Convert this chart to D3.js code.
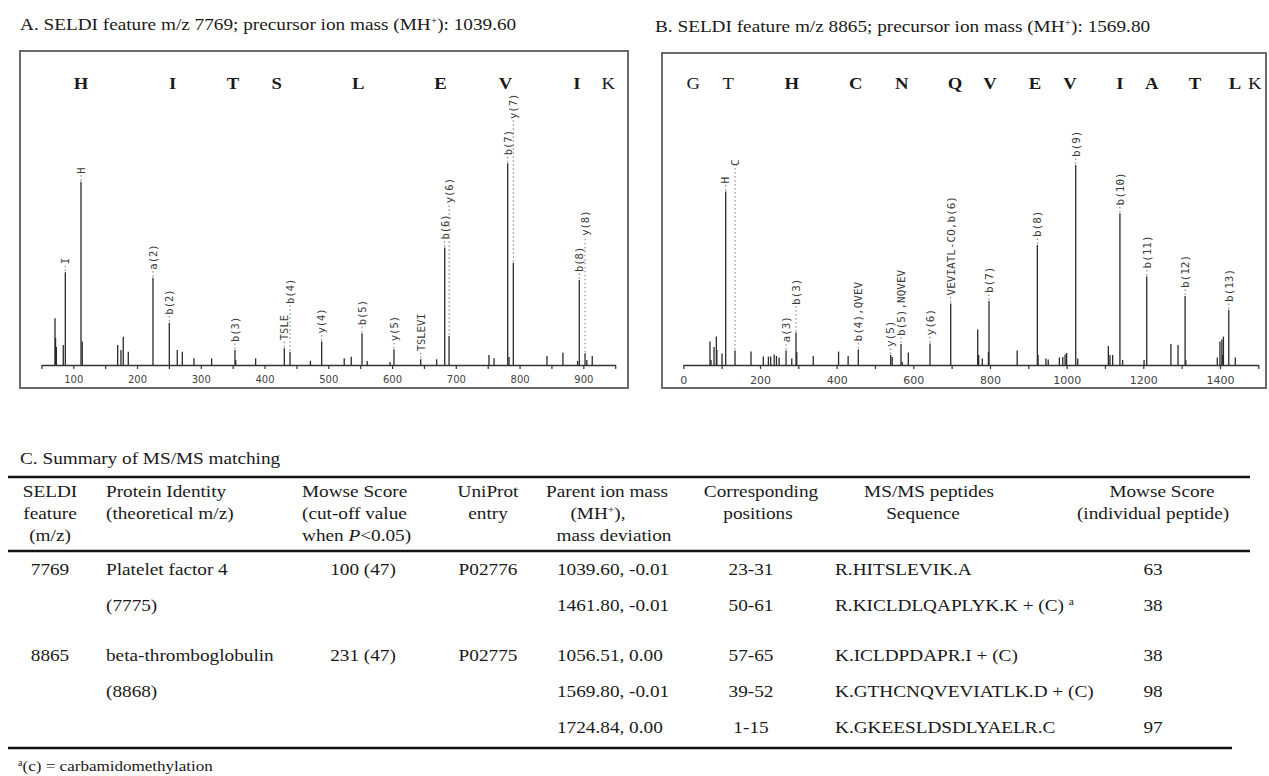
<!DOCTYPE html>
<html><head><meta charset="utf-8">
<script src="https://cdn.jsdelivr.net/npm/d3@7"></script>
<style>
body{margin:0;background:#fff} svg{display:block}
text.serif{font-family:"Liberation Serif","Times New Roman","DejaVu Serif",serif}
</style>
</head><body>
<svg id="fig" width="1269" height="776"></svg>
<script>
// ---------------- DATA ----------------
// Panel A: SELDI feature m/z 7769, peptide HITSLEVIK
const spectrumA_mz  = [71.3, 72.2, 73.5, 84.3, 87.5, 112.1, 114.1, 169.6, 174.8, 178.4, 186.3, 225.0, 250.6, 263.1, 271.0, 289.3, 317.0, 353.6, 354.8, 386.0, 431.0, 440.0, 472.0, 489.6, 525.0, 536.0, 552.9, 561.0, 596.8, 603.0, 645.0, 670.0, 682.6, 689.4, 752.0, 760.0, 781.4, 783.5, 790.2, 843.0, 868.0, 891.0, 893.7, 902.7, 905.5, 914.0];
const spectrumA_int = [23.2, 13.4, 8.9, 9.9, 46.0, 90.9, 11.6, 9.9, 7.4, 14.0, 6.6, 43.3, 21.0, 7.4, 6.6, 3.3, 3.3, 7.4, 2.5, 3.3, 8.3, 6.6, 2.1, 11.6, 3.3, 4.1, 15.7, 2.0, 1.5, 7.8, 2.8, 2.8, 58.2, 14.4, 5.0, 3.3, 100, 4.0, 50.7, 4.5, 6.1, 2.0, 42.1, 5.8, 2.5, 4.5];
const labelsA_mz   = [87.5, 112.1, 225.0, 250.6, 353.6, 431.0, 440.0, 489.6, 552.9, 603.0, 645.0, 682.6, 689.4, 781.4, 790.2, 893.7, 902.7];
const labelsA_text = ["I","H","a(2)","b(2)","b(3)","TSLE","b(4)","y(4)","b(5)","y(5)","TSLEVI","b(6)","y(6)","b(7)","y(7)","b(8)","y(8)"];
const residuesA      = ["H","I","T","S","L","E","V","I","K"];
const residuesA_mz   = [112, 256, 350.5, 419, 547, 676, 778, 890, 939];
const residuesA_bold = [true, true, true, true, true, true, true, true, false];
const domainA = [50, 950];
const ticksA  = d3.range(50, 951, 50);
const tickLabelsA = [100, 200, 300, 400, 500, 600, 700, 800, 900];

// Panel B: SELDI feature m/z 8865, peptide GTHCNQVEVIATLK
const spectrumB_mz  = [69.6, 72.3, 80.1, 86.2, 87.5, 101.0, 110.6, 134.9, 176.6, 208.7, 222.0, 228.0, 237.0, 243.0, 250.0, 268.0, 283.0, 294.0, 296.0, 339.0, 405.0, 430.0, 456.5, 541.0, 545.0, 568.0, 571.0, 587.0, 643.6, 697.6, 768.0, 770.5, 780.0, 796.0, 797.5, 871.0, 923.6, 925.5, 946.0, 952.0, 981.0, 990.0, 996.0, 1000.0, 1023.7, 1029.0, 1108.8, 1113.0, 1120.0, 1139.0, 1146.0, 1202.0, 1209.0, 1272.0, 1290.6, 1309.0, 1311.0, 1393.0, 1400.0, 1405.0, 1407.0, 1409.0, 1423.0, 1440.0];
const spectrumB_int = [11.7, 2.5, 9.0, 14.2, 7.5, 5.8, 86.7, 7.2, 6.7, 4.2, 4.2, 4.2, 5.3, 4.5, 3.8, 7.2, 3.3, 16.2, 6.5, 4.5, 6.7, 4.5, 7.8, 5.0, 4.0, 10.5, 1.5, 6.2, 10.8, 30.8, 17.8, 5.0, 3.3, 6.5, 32.0, 7.2, 60.0, 5.0, 3.3, 2.8, 3.8, 4.0, 5.3, 6.0, 100, 3.3, 9.5, 5.0, 5.0, 75.8, 2.5, 2.5, 44.2, 10.5, 10.0, 34.5, 2.5, 3.8, 11.7, 12.8, 5.0, 14.2, 27.5, 3.8];
const labelsB_mz   = [110.6, 134.9, 268.0, 294.0, 456.5, 541.0, 568.0, 643.6, 697.6, 797.5, 923.6, 1023.7, 1139.0, 1209.0, 1309.0, 1423.0];
const labelsB_text = ["H","C","a(3)","b(3)","b(4),QVEV","y(5)","b(5),NQVEV","y(6)","VEVIATL-CO,b(6)","b(7)","b(8)","b(9)","b(10)","b(11)","b(12)","b(13)"];
const residuesB      = ["G","T","H","C","N","Q","V","E","V","I","A","T","L","K"];
const residuesB_mz   = [26, 117, 283, 450, 570, 709, 800, 917.6, 1009, 1139, 1222, 1335, 1439, 1491];
const residuesB_bold = [false, false, true, true, true, true, true, true, true, true, true, true, true, false];
const domainB = [0, 1500];
const ticksB  = d3.range(0, 1501, 100);
const tickLabelsB = [0, 200, 400, 600, 800, 1000, 1200, 1400];

// Titles
const titleA = "A. SELDI feature m/z 7769; precursor ion mass (MH^+^): 1039.60";
const titleB = "B. SELDI feature m/z 8865; precursor ion mass (MH^+^): 1569.80";
const titleC = "C. Summary of MS/MS matching";

// Panel C table
const headerSeldi    = ["SELDI", "feature", "(m/z)"];
const headerProtein  = ["Protein Identity", "(theoretical m/z)"];
const headerMowse    = ["Mowse Score", "(cut-off value", "when |P|<0.05)"];
const headerUniprot  = ["UniProt", "entry"];
const headerParent   = ["Parent ion mass", "(MH^+^),", "mass deviation"];
const headerPos      = ["Corresponding", "positions"];
const headerSeq      = ["MS/MS peptides", "Sequence"];
const headerScore    = ["Mowse Score", "(individual peptide)"];

const colSeldi    = ["7769", "", "8865", "", ""];
const colProtein  = ["Platelet factor 4", "(7775)", "beta-thromboglobulin", "(8868)", ""];
const colMowse    = ["100 (47)", "", "231 (47)", "", ""];
const colUniprot  = ["P02776", "", "P02775", "", ""];
const colParent   = ["1039.60, -0.01", "1461.80, -0.01", "1056.51, 0.00", "1569.80, -0.01", "1724.84, 0.00"];
const colPos      = ["23-31", "50-61", "57-65", "39-52", "1-15"];
const colSeq      = ["R.HITSLEVIK.A", "R.KICLDLQAPLYK.K + (C) ^a^", "K.ICLDPDAPR.I + (C)", "K.GTHCNQVEVIATLK.D + (C)", "K.GKEESLDSDLYAELR.C"];
const colScore    = ["63", "38", "38", "98", "97"];
const rowGroup    = [0, 0, 1, 1, 1];
const footnote    = "^a^(c) = carbamidomethylation";

// ---------------- DRAWING ----------------
const svg = d3.select("#fig");
svg.append("rect").attr("width", 1269).attr("height", 776).attr("fill", "#ffffff");
const SX = 1.1;  // horizontal stretch of the serif text in the source figure

// rich text: ^x^ = superscript, |x| = italic
function rich(parent, x, y, str, anchor, size, weight) {
  const t = parent.append("text").attr("class", "serif")
    .attr("transform", `translate(${x},${y}) scale(${SX},1)`)
    .attr("text-anchor", anchor || "start")
    .attr("font-size", size)
    .attr("font-weight", weight || "normal").attr("fill", "#1a1a1a");
  const parts = str.split(/(\^[^^]*\^|\|[^|]*\|)/).filter(s => s.length);
  parts.forEach(p => {
    if (p[0] === "^") {
      t.append("tspan").attr("font-size", size * 0.6).attr("baseline-shift", "super").text(p.slice(1, -1));
    } else if (p[0] === "|") {
      t.append("tspan").attr("font-style", "italic").text(p.slice(1, -1));
    } else {
      t.append("tspan").text(p);
    }
  });
  return t;
}

// titles
rich(svg, 20, 30, titleA, "start", 17.5);
rich(svg, 655, 32, titleB, "start", 17.5);

function spectrum(cfg) {
  const g = svg.append("g");
  g.append("rect").attr("x", cfg.box[0]).attr("y", cfg.box[1])
    .attr("width", cfg.box[2]).attr("height", cfg.box[3])
    .attr("fill", "#fff").attr("stroke", "#6a6a6a").attr("stroke-width", 2);

  const x = d3.scaleLinear().domain(cfg.domain).range(cfg.xRange);
  const y = d3.scaleLinear().domain([0, 100]).range(cfg.yRange);

  // axis
  const axis = d3.axisBottom(x).tickValues(cfg.ticks).tickSize(4).tickPadding(7)
    .tickSizeOuter(0)
    .tickFormat(d => cfg.tickLabels.includes(d) ? d : "");
  const ax = g.append("g").attr("transform", `translate(0,${cfg.yRange[0]})`).call(axis);
  ax.select(".domain").attr("stroke", "#333").attr("stroke-width", 1.3);
  ax.selectAll(".tick line").attr("stroke", "#333").attr("stroke-width", 1.2);
  ax.selectAll(".tick text").filter(d => !cfg.tickLabels.includes(d)).remove();
  ax.selectAll(".tick text").attr("font-family", "'DejaVu Sans',sans-serif")
    .attr("font-size", cfg.tickFont).attr("fill", "#444");

  // residue letters
  g.selectAll("text.res").data(cfg.residues).join("text")
    .attr("class", "res serif")
    .attr("transform", (d, i) => `translate(${x(cfg.residuesMz[i])},${cfg.resY}) scale(${SX},1)`)
    .attr("text-anchor", "middle").attr("font-size", 17)
    .attr("font-weight", (d, i) => cfg.residuesBold[i] ? "bold" : "normal")
    .attr("fill", "#1a1a1a").text(d => d);

  // peaks
  const peaks = d3.zip(cfg.mz, cfg.int);
  g.selectAll("line.peak").data(peaks).join("line").attr("class", "peak")
    .attr("x1", d => x(d[0])).attr("x2", d => x(d[0]))
    .attr("y1", y(0)).attr("y2", d => y(d[1]))
    .attr("stroke", "#2a2a2a").attr("stroke-width", 1.3);

  // peak annotations (rotated); a label next to an already annotated peak goes above that label
  const placed = [];
  cfg.labMz.forEach((m, i) => {
    const j = d3.minIndex(cfg.mz, v => Math.abs(v - m));
    const px = x(cfg.mz[j]);
    const top = y(cfg.int[j]);
    const t = g.append("text").attr("font-family", "'DejaVu Sans Mono',monospace")
      .attr("font-size", cfg.labFont).attr("fill", "#3a3a3a").text(cfg.labText[i]);
    const len = t.node().getComputedTextLength();
    let bottom = top - 8;
    for (const p of placed) {
      if (Math.abs(p.x - px) < 10.2) bottom = Math.min(bottom, p.top - 11);
    }
    placed.push({ x: px, top: bottom - len });
    t.attr("transform", `translate(${px + 3.8},${bottom}) rotate(-90)`);
    g.append("line").attr("x1", px).attr("x2", px).attr("y1", top - 1).attr("y2", bottom + 1)
      .attr("stroke", "#777").attr("stroke-width", 1).attr("stroke-dasharray", "1.5,2.5");
  });
}

spectrum({
  box: [20, 51, 608, 337], domain: domainA, xRange: [41.4, 615.2], yRange: [365, 163.3],
  ticks: ticksA, tickLabels: tickLabelsA, tickFont: 10,
  mz: spectrumA_mz, int: spectrumA_int, labMz: labelsA_mz, labText: labelsA_text, labFont: 10.5,
  residues: residuesA, residuesMz: residuesA_mz, residuesBold: residuesA_bold, resY: 89
});
spectrum({
  box: [662, 53, 604, 335], domain: domainB, xRange: [683.3, 1258.3], yRange: [365, 165],
  ticks: ticksB, tickLabels: tickLabelsB, tickFont: 11,
  mz: spectrumB_mz, int: spectrumB_int, labMz: labelsB_mz, labText: labelsB_text, labFont: 11,
  residues: residuesB, residuesMz: residuesB_mz, residuesBold: residuesB_bold, resY: 89
});

// ---------------- TABLE ----------------
const tg = svg.append("g");
const FS = 17.5;
rich(tg, 20, 464, titleC, "start", FS);
const rule = (y, x2) => tg.append("line").attr("x1", 8).attr("x2", x2).attr("y1", y).attr("y2", y)
  .attr("stroke", "#111").attr("stroke-width", 2.6);
rule(477, 1250); rule(551, 1250); rule(748, 1232);

const headY = [497, 519, 541];
const headerCols = [
  { lines: headerSeldi,   x: [50, 50, 50],       a: "middle" },
  { lines: headerProtein, x: [106, 106],         a: "start" },
  { lines: headerMowse,   x: [302, 302, 302],    a: "start" },
  { lines: headerUniprot, x: [488, 488],         a: "middle" },
  { lines: headerParent,  x: [607, 598, 614],    a: "middle" },
  { lines: headerPos,     x: [761, 758],         a: "middle" },
  { lines: headerSeq,     x: [929, 923],         a: "middle" },
  { lines: headerScore,   x: [1162, 1153],       a: "middle" }
];
headerCols.forEach(c => c.lines.forEach((s, k) => rich(tg, c.x[k], headY[k], s, c.a, FS)));

const rowY = rowGroup.map((gI, i) => 575 + i * 36 + gI * 14);
const dataCols = [
  { vals: colSeldi,   x: 50,   a: "middle" },
  { vals: colProtein, x: 106,  a: "start" },
  { vals: colMowse,   x: 363,  a: "middle" },
  { vals: colUniprot, x: 488,  a: "middle" },
  { vals: colParent,  x: 557,  a: "start" },
  { vals: colPos,     x: 751,  a: "middle" },
  { vals: colSeq,     x: 835,  a: "start" },
  { vals: colScore,   x: 1153, a: "middle" }
];
dataCols.forEach(c => c.vals.forEach((s, i) => { if (s) rich(tg, c.x, rowY[i], s, c.a, FS); }));

rich(tg, 18, 771, footnote, "start", 15.5);
</script>
</body></html>
